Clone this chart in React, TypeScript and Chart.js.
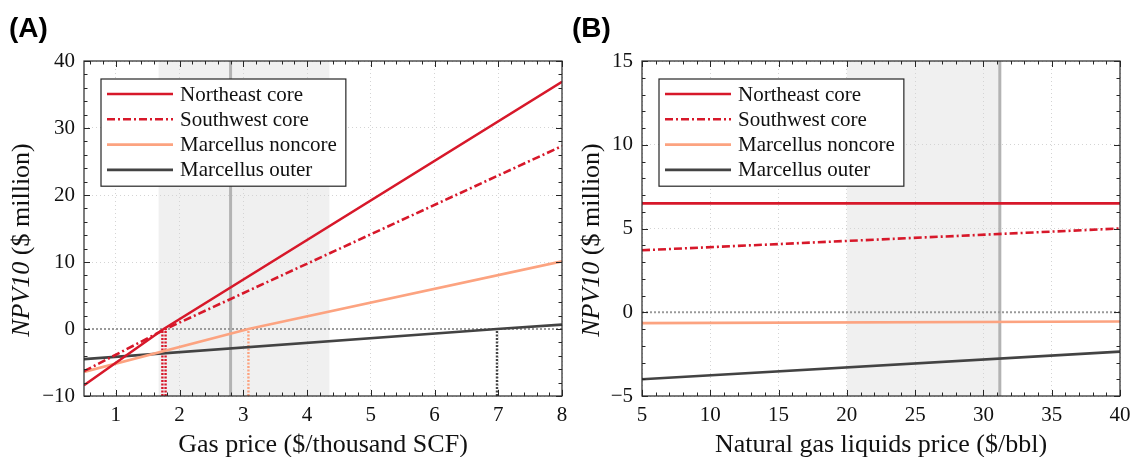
import React, { useEffect, useRef } from "react";
import { Chart, registerables } from "chart.js";
Chart.register(...registerables);

// ---------- data ----------
const seriesNames = ["Northeast core", "Southwest core", "Marcellus noncore", "Marcellus outer"];
const seriesColors = ["#d7182a", "#d7182a", "#fca380", "#434343"];
const seriesDashes: number[][] = [[], [8, 3, 2, 3], [], []];

// Panel A: NPV10 vs gas price ($/thousand SCF)
const gasPriceNE = [0.5, 1.75, 8];
const npvGasNE = [-8.4, 0, 36.9];
const gasPriceSW = [0.5, 1.78, 8];
const npvGasSW = [-6.3, 0, 27.3];
const gasPriceMN = [0.5, 3.08, 8];
const npvGasMN = [-6.4, 0, 10.1];
const gasPriceMO = [0.5, 6.98, 8];
const npvGasMO = [-4.5, 0, 0.65];
const breakevenGas = [1.73, 1.78, 3.08, 6.98];
const shadeGas = [1.67, 4.35];
const refGas = 2.8;
const xTicksA = [1, 2, 3, 4, 5, 6, 7, 8];
const yTicksA = [-10, 0, 10, 20, 30, 40];

// Panel B: NPV10 vs NGL price ($/bbl)
const nglPrice = [5, 40];
const npvNglNE = [6.5, 6.5];
const npvNglSW = [3.7, 5.0];
const npvNglMN = [-0.65, -0.55];
const npvNglMO = [-4.0, -2.35];
const shadeNgl = [20, 31.2];
const refNgl = 31.2;
const xTicksB = [5, 10, 15, 20, 25, 30, 35, 40];
const yTicksB = [-5, 0, 5, 10, 15];

const SERIF = "'Liberation Serif', 'Times New Roman', serif";
const SANS = "'Liberation Sans', Arial, sans-serif";

const toXY = (xs: number[], ys: number[]) => xs.map((x, i) => ({ x, y: ys[i] }));

type Panel = {
  label: string;
  xTitle: string;
  xMin: number; xMax: number; yMin: number; yMax: number;
  xTicks: number[]; yTicks: number[];
  xMinor: number; yMinor: number;
  series: { x: number; y: number }[][];
  breakeven: number[];
  shade: number[];
  ref: number;
  yAxisWidth: number;
  padRight: number;
  yTitleX: number;
};

const panels: Panel[] = [
  {
    label: "(A)",
    xTitle: "Gas price ($/thousand SCF)",
    xMin: 0.5, xMax: 8, yMin: -10, yMax: 40,
    xTicks: xTicksA, yTicks: yTicksA, xMinor: 0.2, yMinor: 2,
    series: [toXY(gasPriceNE, npvGasNE), toXY(gasPriceSW, npvGasSW), toXY(gasPriceMN, npvGasMN), toXY(gasPriceMO, npvGasMO)],
    breakeven: breakevenGas,
    shade: shadeGas,
    ref: refGas,
    yAxisWidth: 84,
    padRight: 5,
    yTitleX: 22,
  },
  {
    label: "(B)",
    xTitle: "Natural gas liquids price ($/bbl)",
    xMin: 5, xMax: 40, yMin: -5, yMax: 15,
    xTicks: xTicksB, yTicks: yTicksB, xMinor: 1, yMinor: 1,
    series: [toXY(nglPrice, npvNglNE), toXY(nglPrice, npvNglSW), toXY(nglPrice, npvNglMN), toXY(nglPrice, npvNglMO)],
    breakeven: [],
    shade: shadeNgl,
    ref: refNgl,
    yAxisWidth: 75,
    padRight: 14,
    yTitleX: 25,
  },
];

function makePlugin(p: Panel) {
  return {
    id: "decor",
    beforeDraw(chart: any) {
      const { ctx, chartArea: a } = chart;
      const xs = chart.scales.x;
      ctx.save();
      ctx.fillStyle = "#f0f0f0";
      const x0 = xs.getPixelForValue(p.shade[0]);
      const x1 = xs.getPixelForValue(p.shade[1]);
      ctx.fillRect(x0, a.top, x1 - x0, a.bottom - a.top);
      ctx.restore();
    },
    beforeDatasetsDraw(chart: any) {
      const { ctx, chartArea: a } = chart;
      const xs = chart.scales.x;
      ctx.save();
      ctx.strokeStyle = "#b3b3b3";
      ctx.lineWidth = 3;
      const xr = xs.getPixelForValue(p.ref);
      ctx.beginPath();
      ctx.moveTo(xr, a.top);
      ctx.lineTo(xr, a.bottom);
      ctx.stroke();
      ctx.restore();
    },
    afterDatasetsDraw(chart: any) {
      const { ctx, chartArea: a } = chart;
      const xs = chart.scales.x;
      const ys = chart.scales.y;
      ctx.save();
      // box
      ctx.strokeStyle = "#262626";
      ctx.lineWidth = 1.2;
      ctx.strokeRect(a.left, a.top, a.right - a.left, a.bottom - a.top);
      // ticks
      const drawX = (v: number, len: number) => {
        const px = Math.round(xs.getPixelForValue(v)) + 0.5;
        ctx.beginPath();
        ctx.moveTo(px, a.bottom); ctx.lineTo(px, a.bottom - len);
        ctx.moveTo(px, a.top); ctx.lineTo(px, a.top + len);
        ctx.stroke();
      };
      const drawY = (v: number, len: number) => {
        const py = Math.round(ys.getPixelForValue(v)) + 0.5;
        ctx.beginPath();
        ctx.moveTo(a.left, py); ctx.lineTo(a.left + len, py);
        ctx.moveTo(a.right, py); ctx.lineTo(a.right - len, py);
        ctx.stroke();
      };
      ctx.lineWidth = 1;
      for (let k = Math.ceil(p.xMin / p.xMinor - 1e-9); k <= Math.floor(p.xMax / p.xMinor + 1e-9); k++) drawX(k * p.xMinor, 3.5);
      for (let k = Math.ceil(p.yMin / p.yMinor - 1e-9); k <= Math.floor(p.yMax / p.yMinor + 1e-9); k++) drawY(k * p.yMinor, 3.5);
      p.xTicks.forEach((v) => drawX(v, 6));
      p.yTicks.forEach((v) => drawY(v, 6));

      // legend
      ctx.font = `21px ${SERIF}`;
      const maxW = Math.max(...seriesNames.map((s) => ctx.measureText(s).width));
      const lx = a.left + 17;
      const ly = a.top + 18;
      const lw = 79 + maxW + 9;
      const rowH = 25.3;
      const lh = rowH * seriesNames.length + 6;
      ctx.fillStyle = "#ffffff";
      ctx.fillRect(lx, ly, lw, lh);
      ctx.strokeStyle = "#262626";
      ctx.lineWidth = 1.2;
      ctx.strokeRect(lx, ly, lw, lh);
      seriesNames.forEach((name, i) => {
        const cy = ly + 15 + i * rowH;
        ctx.strokeStyle = seriesColors[i];
        ctx.lineWidth = 2.6;
        ctx.setLineDash(seriesDashes[i]);
        ctx.beginPath();
        ctx.moveTo(lx + 6, cy);
        ctx.lineTo(lx + 72, cy);
        ctx.stroke();
        ctx.setLineDash([]);
        ctx.fillStyle = "#111";
        ctx.textAlign = "left";
        ctx.textBaseline = "middle";
        ctx.fillText(name, lx + 79, cy + 1);
      });

      // x title
      ctx.fillStyle = "#111";
      ctx.font = `26px ${SERIF}`;
      ctx.textAlign = "center";
      ctx.textBaseline = "alphabetic";
      ctx.fillText(p.xTitle, (a.left + a.right) / 2, 452);

      // y title (mixed italic)
      ctx.save();
      ctx.translate(p.yTitleX, 240);
      ctx.rotate(-Math.PI / 2);
      const part1 = "NPV10";
      const part2 = " ($ million)";
      ctx.font = `italic 26px ${SERIF}`;
      const w1 = ctx.measureText(part1).width;
      ctx.font = `26px ${SERIF}`;
      const w2 = ctx.measureText(part2).width;
      const start = -(w1 + w2) / 2;
      ctx.textAlign = "left";
      ctx.textBaseline = "middle";
      ctx.font = `italic 26px ${SERIF}`;
      ctx.fillText(part1, start, 0);
      ctx.font = `26px ${SERIF}`;
      ctx.fillText(part2, start + w1, 0);
      ctx.restore();

      // panel label
      ctx.font = `bold 28px ${SANS}`;
      ctx.textAlign = "left";
      ctx.textBaseline = "alphabetic";
      ctx.fillStyle = "#000";
      ctx.fillText(p.label, p.label === "(A)" ? 9 : 5, 37);
      ctx.restore();
    },
  };
}

function makeConfig(p: Panel): any {
  const datasets: any[] = p.series.map((data, i) => ({
    label: seriesNames[i],
    data,
    borderColor: seriesColors[i],
    borderWidth: 2.6,
    borderDash: seriesDashes[i],
    pointRadius: 0,
    fill: false,
    tension: 0,
  }));
  p.breakeven.forEach((b, i) => {
    datasets.push({
      label: "breakeven " + i,
      data: [{ x: b, y: p.yMin }, { x: b, y: 0 }],
      borderColor: seriesColors[i],
      borderWidth: 2.4,
      borderDash: [2, 1.5],
      pointRadius: 0,
      fill: false,
    });
  });
  datasets.push({
    label: "zero",
    data: [{ x: p.xMin, y: 0 }, { x: p.xMax, y: 0 }],
    borderColor: "#9a9a9a",
    borderWidth: 2,
    borderDash: [2, 2],
    pointRadius: 0,
    fill: false,
  });
  const fmt = (v: any) => String(v).replace("-", "\u2212");
  return {
    type: "line",
    data: { datasets },
    plugins: [makePlugin(p)],
    options: {
      responsive: false,
      animation: false,
      events: [],
      layout: { padding: { top: 61, right: p.padRight, left: 0, bottom: 0 } },
      plugins: { legend: { display: false }, tooltip: { enabled: false }, title: { display: false } },
      scales: {
        x: {
          type: "linear",
          min: p.xMin,
          max: p.xMax,
          afterBuildTicks: (s: any) => { s.ticks = p.xTicks.map((v) => ({ value: v })); },
          afterFit: (s: any) => { s.height = 61; s.paddingLeft = 0; s.paddingRight = 0; },
          grid: { color: "#d4d4d4", lineWidth: 1, drawTicks: false },
          border: { display: false, dash: [1, 3] },
          ticks: {
            autoSkip: false, maxRotation: 0, padding: 7,
            color: "#111", font: { family: SERIF, size: 21 },
            callback: fmt,
          },
        },
        y: {
          type: "linear",
          min: p.yMin,
          max: p.yMax,
          afterBuildTicks: (s: any) => { s.ticks = p.yTicks.map((v) => ({ value: v })); },
          afterFit: (s: any) => { s.width = p.yAxisWidth; s.paddingTop = 0; s.paddingBottom = 0; },
          grid: { color: "#d4d4d4", lineWidth: 1, drawTicks: false },
          border: { display: false, dash: [1, 3] },
          ticks: {
            autoSkip: false, padding: 9,
            color: "#111", font: { family: SERIF, size: 21 },
            callback: fmt,
          },
        },
      },
    },
  };
}

function PanelChart({ p, left }: { p: Panel; left: number }) {
  const ref = useRef<HTMLCanvasElement | null>(null);
  useEffect(() => {
    if (!ref.current) return;
    const chart = new Chart(ref.current, makeConfig(p));
    return () => chart.destroy();
  }, [p]);
  return (
    <canvas
      ref={ref}
      width={567}
      height={457}
      style={{ position: "absolute", left, top: 0, width: 567, height: 457, display: "block" }}
    />
  );
}

export default function App() {
  return (
    <div style={{ position: "absolute", left: 0, top: 0, width: 1134, height: 457, background: "#fff", overflow: "hidden" }}>
      <PanelChart p={panels[0]} left={0} />
      <PanelChart p={panels[1]} left={567} />
    </div>
  );
}
